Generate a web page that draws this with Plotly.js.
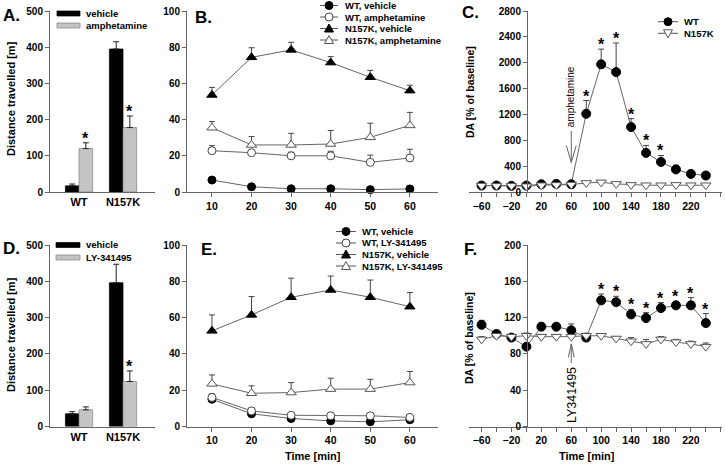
<!DOCTYPE html>
<html><head><meta charset="utf-8">
<script src="https://cdn.plot.ly/plotly-3.0.1.min.js"></script>
<style>html,body{margin:0;padding:0;background:#fff}#chart{width:725px;height:472px}</style>
</head><body><div id="chart"></div>
<script>
// ---------- DATA ----------
const groups = ['WT', 'N157K'];
// Panel A
const A_vehicle = [17, 395];
const A_vehicle_err = [5, 20];
const A_amph = [120, 178];
const A_amph_err = [16, 32];
const A_amph_star = [true, true];
// Panel D
const D_vehicle = [35, 396];
const D_vehicle_err = [6, 51];
const D_ly = [46, 124];
const D_ly_err = [8, 29];
const D_ly_star = [false, true];
// Panel B / E  (time, min)
const bins = [10, 20, 30, 40, 50, 60];
const B_wt_veh = [6.6, 2.9, 1.8, 1.8, 1.3, 1.7];
const B_wt_veh_err = [0.6, 0.4, 0.3, 0.3, 0.3, 0.3];
const B_wt_amph = [22.8, 21.7, 20, 20, 16.4, 18.8];
const B_wt_amph_err = [2.8, 1.0, 2.0, 2.5, 4.0, 4.8];
const B_ko_veh = [53.6, 74.4, 78.5, 71.5, 63.4, 56];
const B_ko_veh_err = [4.2, 5.3, 4.2, 3.3, 3.8, 3.0];
const B_ko_amph = [35.5, 26, 26, 26.5, 30.2, 36.8];
const B_ko_amph_err = [3.4, 4.6, 6.4, 7.5, 7.8, 7.2];
const E_wt_veh = [15, 7, 4.4, 3.1, 2.6, 3.7];
const E_wt_veh_err = [1.5, 0.8, 0.6, 0.5, 0.5, 0.5];
const E_wt_ly = [16, 8.6, 6.2, 5.9, 5.9, 5];
const E_wt_ly_err = [2.0, 1.0, 0.8, 0.6, 0.6, 0.6];
const E_ko_veh = [52.7, 61.5, 71.2, 75.2, 71.2, 66];
const E_ko_veh_err = [8.8, 10.1, 10.5, 7.7, 9.5, 7.8];
const E_ko_ly = [23.5, 18.3, 18.7, 20.6, 20.6, 24.2];
const E_ko_ly_err = [4.9, 4.1, 5.5, 6.0, 5.4, 6.1];
// Panel C / F  (microdialysis time, min)
const times = [-60, -40, -20, 0, 20, 40, 60, 80, 100, 120, 140, 160, 180, 200, 220, 240];
const C_wt = [100, 100, 95, 100, 120, 125, 120, 1210, 1975, 1855, 1005, 605, 465, 350, 280, 255];
const C_wt_err = [0, 0, 0, 0, 0, 0, 0, 205, 235, 450, 130, 115, 100, 65, 40, 30];
const C_wt_star = [0,0,0,0,0,0,0,1,1,1,1,1,1,0,0,0];
const C_ko = [100, 95, 95, 90, 105, 110, 115, 140, 150, 125, 110, 105, 105, 110, 105, 105];
const C_ko_err = [10, 10, 10, 10, 10, 10, 10, 15, 15, 10, 10, 10, 10, 10, 10, 10];
const F_wt = [112, 102, 98, 88, 110, 110, 106, 98, 139, 137, 123.5, 119.5, 130.5, 133.5, 133.5, 114];
const F_wt_err = [5, 2, 2, 3, 4, 3, 7, 3, 7, 6.5, 5.5, 6, 6, 4.5, 8.5, 10.5];
const F_wt_star = [0,0,0,0,0,0,0,0,1,1,1,1,1,1,1,1];
const F_ko = [96, 100, 99, 100, 99, 99, 99, 100, 100, 97, 94, 91, 96, 93, 91, 88];
const F_ko_err = [3, 2, 2, 3, 2, 2, 2, 2, 2, 2, 4, 5, 3, 3, 3, 4];
const timeTicks = [-60, -20, 20, 60, 100, 140, 180, 220];

// ---------- helpers ----------
const W = 725, H = 472;
const px = x => x / W;
const py = y => 1 - y / H;
const FONT = 'Liberation Sans, Arial, sans-serif';
const AX = '#666';
const zeros = n => new Array(n).fill(0);

function errY(arr, color) {
  return {type: 'data', symmetric: false, array: arr, arrayminus: zeros(arr.length),
          color: color || '#333', thickness: 1, width: 3};
}
function line(xs, ys, err, xa, ya, sym, fill, lc, size) {
  return {type: 'scatter', mode: 'lines+markers', x: xs, y: ys, xaxis: xa, yaxis: ya,
    line: {color: '#666', width: 1}, error_y: errY(err, '#444'),
    marker: {symbol: sym, size: size || 8, color: fill, line: {color: lc || '#000', width: 1}},
    showlegend: false, cliponaxis: false};
}
function bar(ys, err, xa, ya, color, lc) {
  return {type: 'bar', x: [0, 1], y: ys, xaxis: xa, yaxis: ya, width: 0.31,
    marker: {color: color, line: {color: lc, width: 0.7}}, error_y: errY(err, '#222'),
    showlegend: false};
}

const traces = [
  Object.assign(bar(A_vehicle, A_vehicle_err, 'x', 'y', '#000', '#000'), {offset: -0.31}),
  Object.assign(bar(A_amph, A_amph_err, 'x', 'y', '#c4c4c4', '#808080'), {offset: 0}),
  Object.assign(bar(D_vehicle, D_vehicle_err, 'x4', 'y4', '#000', '#000'), {offset: -0.31}),
  Object.assign(bar(D_ly, D_ly_err, 'x4', 'y4', '#c4c4c4', '#808080'), {offset: 0}),
  line(bins, B_wt_veh, B_wt_veh_err, 'x2', 'y2', 'circle', '#000'),
  line(bins, B_wt_amph, B_wt_amph_err, 'x2', 'y2', 'circle', '#fff', '#444'),
  line(bins, B_ko_veh, B_ko_veh_err, 'x2', 'y2', 'triangle-up', '#000', '#000', 9),
  line(bins, B_ko_amph, B_ko_amph_err, 'x2', 'y2', 'triangle-up', '#fff', '#555', 9),
  line(bins, E_wt_veh, E_wt_veh_err, 'x5', 'y5', 'circle', '#000'),
  line(bins, E_wt_ly, E_wt_ly_err, 'x5', 'y5', 'circle', '#fff', '#444'),
  line(bins, E_ko_veh, E_ko_veh_err, 'x5', 'y5', 'triangle-up', '#000', '#000', 9),
  line(bins, E_ko_ly, E_ko_ly_err, 'x5', 'y5', 'triangle-up', '#fff', '#555', 9),
  line(times, C_wt, C_wt_err, 'x3', 'y3', 'circle', '#000', '#000', 9),
  line(times, C_ko, C_ko_err, 'x3', 'y3', 'triangle-down', '#fff', '#555', 9),
  line(times, F_wt, F_wt_err, 'x6', 'y6', 'circle', '#000', '#000', 9),
  line(times, F_ko, F_ko_err, 'x6', 'y6', 'triangle-down', '#fff', '#555', 9),
];

// ---------- axes ----------
const TOP = [py(192), py(11)];
const BOT = [py(426.5), py(245)];
const tf = (s) => ({family: FONT, size: s || 10, color: '#000', weight: 'bold'});
function yax(range, dtick, domain, extra) {
  return Object.assign({domain: domain, range: range, dtick: dtick, tick0: 0, showline: true,
    linecolor: AX, linewidth: 1, ticks: 'outside', ticklen: 4, tickcolor: AX, showgrid: false,
    zeroline: false, tickfont: tf(10), fixedrange: true}, extra || {});
}
function xtime(domain, range, anchor) {
  return {domain: domain, range: range, anchor: anchor, tickmode: 'array', tickvals: bins,
    showline: true, linecolor: AX, ticks: 'outside', ticklen: 4, tickcolor: AX, showgrid: false,
    zeroline: false, tickfont: tf(10.5)};
}
function xcat(domain, anchor) {
  return {domain: domain, anchor: anchor, range: [-0.66, 1.727], tickmode: 'array',
    tickvals: [0, 1], ticktext: groups, showline: true, linecolor: AX, ticks: '',
    showgrid: false, zeroline: false, tickfont: tf(11)};
}
function xmd(domain, anchor) {
  return {domain: domain, anchor: anchor, range: [-76.8, 261.6], tickmode: 'array',
    tickvals: timeTicks, showline: true, linecolor: AX, ticks: 'outside', ticklen: 4,
    tickcolor: AX, minor: {dtick: 20, tick0: -60, ticks: 'outside', ticklen: 4, tickcolor: AX},
    showgrid: false, zeroline: false, tickfont: tf(10.5)};
}
const yPos = px(527);

// ---------- annotations ----------
const ann = [];
function txt(x, y, t, size, extra) {
  ann.push(Object.assign({xref: 'paper', yref: 'paper', x: px(x), y: py(y), text: t,
    showarrow: false, xanchor: 'center', yanchor: 'middle',
    font: {family: FONT, size: size, color: '#000', weight: 'bold'}}, extra || {}));
}
function star(xa, ya, x, y) {
  ann.push({xref: xa, yref: ya, x: x, y: y, text: '*', showarrow: false, yanchor: 'bottom',
    yshift: -6, font: {family: FONT, size: 16, color: '#000', weight: 'bold'}});
}
A_amph_star.forEach((s, i) => { if (s) star('x', 'y', i + 0.155, A_amph[i] + A_amph_err[i]); });
D_ly_star.forEach((s, i) => { if (s) star('x4', 'y4', i + 0.155, D_ly[i] + D_ly_err[i]); });
C_wt_star.forEach((s, i) => { if (s) star('x3', 'y3', times[i], C_wt[i] + C_wt_err[i]); });
F_wt_star.forEach((s, i) => { if (s) star('x6', 'y6', times[i], F_wt[i] + F_wt_err[i]); });

// panel letters
txt(11.5, 15.5, 'A.', 17); txt(203.5, 17, 'B.', 17); txt(470.5, 12.5, 'C.', 17);
txt(11, 248, 'D.', 17); txt(208.5, 249, 'E.', 17); txt(470.5, 249, 'F.', 17);
// axis titles
txt(11, 99, 'Distance travelled [m]', 11, {textangle: -90});
txt(11, 335, 'Distance travelled [m]', 11, {textangle: -90});
txt(470, 92, 'DA [% of baseline]', 10.5, {textangle: -90});
txt(469, 338, 'DA [% of baseline]', 10.5, {textangle: -90});
txt(313, 456, 'Time [min]', 11);
txt(587, 456, 'Time [min]', 11);

// arrows
ann.push({xref: 'x3', yref: 'y3', x: 60, y: 1470, text: 'amphetamine', textangle: -90,
  showarrow: false, font: {family: FONT, size: 10, color: '#000'}});
ann.push({xref: 'x6', yref: 'y6', x: 60, y: 35, text: 'LY341495', textangle: -90,
  showarrow: false, font: {family: FONT, size: 12.5, color: '#000'}});

const shapes = [];
shapes.push({type: 'path', xref: 'x3', yref: 'y3', layer: 'above',
  path: 'M60,944 L60,455 M53.4,718 L60,455 L66.6,718', line: {color: '#666', width: 1}});
shapes.push({type: 'path', xref: 'x6', yref: 'y6', layer: 'above',
  path: 'M60,70 L60,91 M56,76 L60,91 L64,76', line: {color: '#666', width: 1}});

// manual legends
function legLine(x0, x1, y) {
  shapes.push({type: 'line', xref: 'paper', yref: 'paper', x0: px(x0), x1: px(x1), y0: py(y), y1: py(y),
    line: {color: '#555', width: 1}});
}
function legCircle(cx, cy, fill, lc) {
  shapes.push({type: 'circle', xref: 'paper', yref: 'paper', x0: px(cx - 4), x1: px(cx + 4),
    y0: py(cy + 4), y1: py(cy - 4), fillcolor: fill, line: {color: lc, width: 1}});
}
function legTri(cx, cy, fill, lc, down) {
  const s = down ? -1 : 1;
  const p = `M${px(cx - 4.5)},${py(cy + 3.5 * s)} L${px(cx + 4.5)},${py(cy + 3.5 * s)} L${px(cx)},${py(cy - 4.5 * s)} Z`;
  shapes.push({type: 'path', xref: 'paper', yref: 'paper', path: p, fillcolor: fill, line: {color: lc, width: 1}});
}
function legRect(x0, x1, y, fill, lc) {
  shapes.push({type: 'rect', xref: 'paper', yref: 'paper', x0: px(x0), x1: px(x1), y0: py(y + 2.5), y1: py(y - 2.5),
    fillcolor: fill, line: {color: lc, width: 0.7}});
}
function legText(x, y, t) { txt(x, y, t, 9.5, {xanchor: 'left'}); }

// A / D legends
legRect(57, 80, 13.5, '#000', '#000'); legText(84, 13.5, 'vehicle');
legRect(57, 80, 25.5, '#c4c4c4', '#808080'); legText(84, 25.5, 'amphetamine');
legRect(56, 80, 245, '#000', '#000'); legText(84, 245, 'vehicle');
legRect(56, 80, 257.5, '#c4c4c4', '#808080'); legText(84, 257.5, 'LY-341495');
// B legend
const bRows = [5.5, 17, 28.5, 40];
const bLabels = ['WT, vehicle', 'WT, amphetamine', 'N157K, vehicle', 'N157K, amphetamine'];
bRows.forEach(y => legLine(320, 338, y));
legCircle(329, bRows[0], '#000', '#000'); legCircle(329, bRows[1], '#fff', '#444');
legTri(329, bRows[2], '#000', '#000'); legTri(329, bRows[3], '#fff', '#555');
bRows.forEach((y, i) => legText(343, y, bLabels[i]));
// E legend
const eRows = [231.5, 243, 254.5, 266];
const eLabels = ['WT, vehicle', 'WT, LY-341495', 'N157K, vehicle', 'N157K, LY-341495'];
eRows.forEach(y => legLine(336, 356, y));
legCircle(346, eRows[0], '#000', '#000'); legCircle(346, eRows[1], '#fff', '#444');
legTri(346, eRows[2], '#000', '#000'); legTri(346, eRows[3], '#fff', '#555');
eRows.forEach((y, i) => legText(360, y, eLabels[i]));
// C legend
legLine(658, 678, 21.7); legCircle(668, 21.7, '#000', '#000'); legText(682, 21.7, 'WT');
legLine(658, 678, 33.3); legTri(668, 33.3, '#fff', '#555', true); legText(682, 33.3, 'N157K');

const layout = {
  width: W, height: H, margin: {l: 0, r: 0, t: 0, b: 0}, paper_bgcolor: '#fff', plot_bgcolor: 'rgba(0,0,0,0)',
  showlegend: false, barmode: 'overlay', font: {family: FONT, size: 10, color: '#000'},
  xaxis: xcat([px(50), px(155)], 'y'),
  yaxis: yax([0, 500], 100, TOP),
  xaxis2: xtime([px(187), px(438)], [3.7, 67.1], 'y2'),
  yaxis2: yax([0, 100], 20, TOP, {anchor: 'x2'}),
  xaxis3: xmd([px(469), px(722)], 'y3'),
  yaxis3: yax([0, 2800], 400, TOP, {anchor: 'free', position: yPos}),
  xaxis4: xcat([px(50), px(155)], 'y4'),
  yaxis4: yax([0, 500], 100, BOT, {anchor: 'x4'}),
  xaxis5: xtime([px(187), px(438)], [3.7, 67.1], 'y5'),
  yaxis5: yax([0, 100], 20, BOT, {anchor: 'x5'}),
  xaxis6: xmd([px(469), px(722)], 'y6'),
  yaxis6: yax([0, 200], 40, BOT, {anchor: 'free', position: yPos}),
  annotations: ann, shapes: shapes
};
Plotly.newPlot('chart', traces, layout, {staticPlot: true, displayModeBar: false});
</script></body></html>
